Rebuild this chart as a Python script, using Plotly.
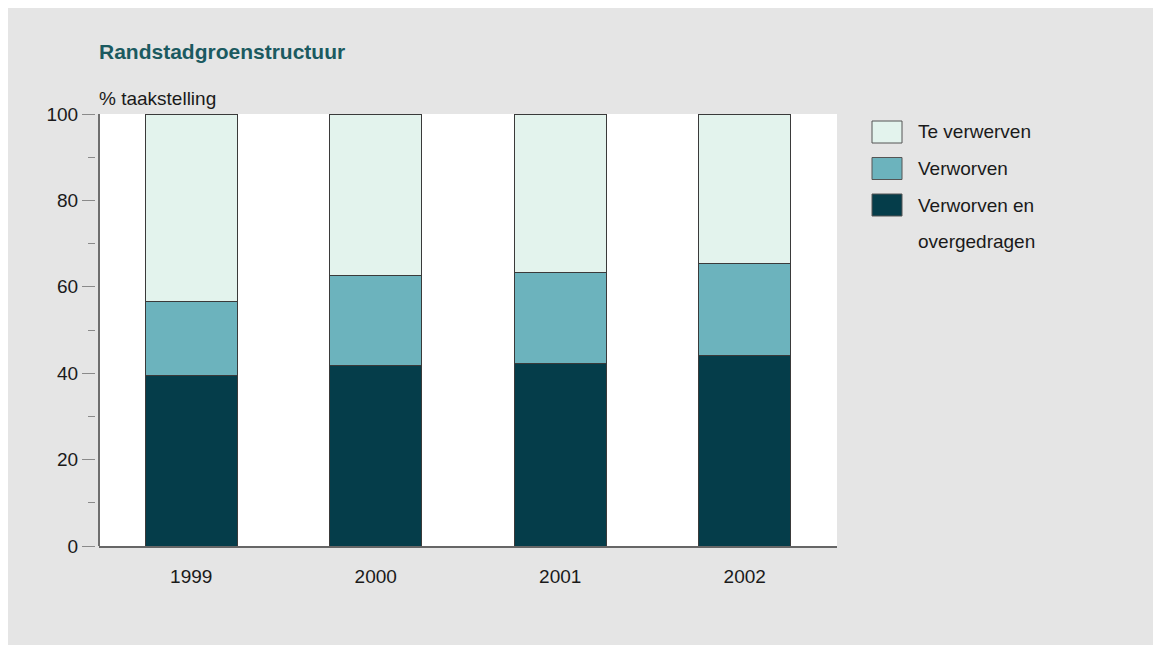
import plotly.graph_objects as go

# ---- data ----
years = ["1999", "2000", "2001", "2002"]
series_names = ["Verworven en overgedragen", "Verworven", "Te verwerven"]
verworven_overgedragen = [39.4, 41.7, 42.2, 44.2]
verworven = [17.2, 21.0, 21.2, 21.1]
te_verwerven = [43.4, 37.3, 36.6, 34.7]
y_ticks = [0, 20, 40, 60, 80, 100]
title_text = "Randstadgroenstructuur"
y_title = "% taakstelling"
legend_lines = [["Te verwerven"], ["Verworven"], ["Verworven en", "overgedragen"]]

# ---- style ----
C_DARK = "#053d4a"
C_MID = "#6cb3bd"
C_LIGHT = "#e3f3ed"
BG = "#e5e5e5"
FONT = "Liberation Sans, Arial, sans-serif"
TXT = "#1a1a1a"

OFF = 8  # page body margin (top/left)
W, H = 1145, 637
# plot area in page coordinates: x 99..837, y 114..546
ML = 95 - OFF
MR = (W + OFF) - 837
MT = 114 - OFF
MB = (H + OFF) - 546
PW = W - ML - MR
PH = H - MT - MB
d = 4 / PW


def px(x):  # page x -> paper
    return (x - OFF - ML) / PW


def py(y):  # page y -> paper
    return (H - MB - (y - OFF)) / PH


fig = go.Figure()
for name, vals, col in zip(series_names,
                           [verworven_overgedragen, verworven, te_verwerven],
                           [C_DARK, C_MID, C_LIGHT]):
    fig.add_trace(go.Bar(x=years, y=vals, name=name,
                         marker=dict(color=col, line=dict(color="#3a3a3a", width=1)),
                         showlegend=False))

shapes = []
# left axis line
shapes.append(dict(type="line", xref="paper", yref="paper", x0=d, x1=d, y0=0, y1=1,
                   line=dict(color="#6e6e6e", width=2)))

annotations = []
annotations.append(dict(text="<b>" + title_text + "</b>", xref="paper", yref="paper",
                        x=px(97), y=py(51), xanchor="left", yanchor="middle", showarrow=False,
                        font=dict(family=FONT, size=21, color="#1b5a60")))
annotations.append(dict(text=y_title, xref="paper", yref="paper",
                        x=px(97), y=py(98), xanchor="left", yanchor="middle", showarrow=False,
                        font=dict(family=FONT, size=19, color=TXT)))

# custom legend
legend_cols = [C_LIGHT, C_MID, C_DARK]
row = 0
for lines, col in zip(legend_lines, legend_cols):
    cy = 132 + row * 36.5
    shapes.append(dict(type="rect", xref="paper", yref="paper",
                       x0=px(872), x1=px(902), y0=py(cy + 11), y1=py(cy - 11),
                       fillcolor=col, line=dict(color="#555555", width=1)))
    for ln in lines:
        ty = 132 + row * 36.5
        annotations.append(dict(text=ln, xref="paper", yref="paper", x=px(916), y=py(ty),
                                xanchor="left", yanchor="middle", showarrow=False,
                                font=dict(family=FONT, size=19, color=TXT)))
        row += 1

fig.update_layout(
    width=W, height=H,
    margin=dict(l=ML, r=MR, t=MT, b=MB, pad=0),
    paper_bgcolor=BG, plot_bgcolor="white",
    barmode="stack", bargap=0.5,
    font=dict(family=FONT, size=19, color=TXT),
    shapes=shapes, annotations=annotations,
    xaxis=dict(domain=[d, 1], showline=True, linecolor="#666666", linewidth=2,
               ticks="outside", ticklen=12, tickcolor="rgba(0,0,0,0)",
               showgrid=False, zeroline=False, tickfont=dict(size=19)),
    yaxis=dict(anchor="free", position=0, range=[0, 100], tickvals=y_ticks,
               ticks="outside", ticklen=13, tickwidth=1, tickcolor="#8a8a8a",
               minor=dict(ticks="outside", ticklen=7, tickwidth=1, tickcolor="#8a8a8a", dtick=10, tick0=0),
               showline=False, showgrid=False, zeroline=False, tickfont=dict(size=19)),
)

fig.write_html("out.html", post_script="document.body.style.margin='8px 0 0 8px';")
